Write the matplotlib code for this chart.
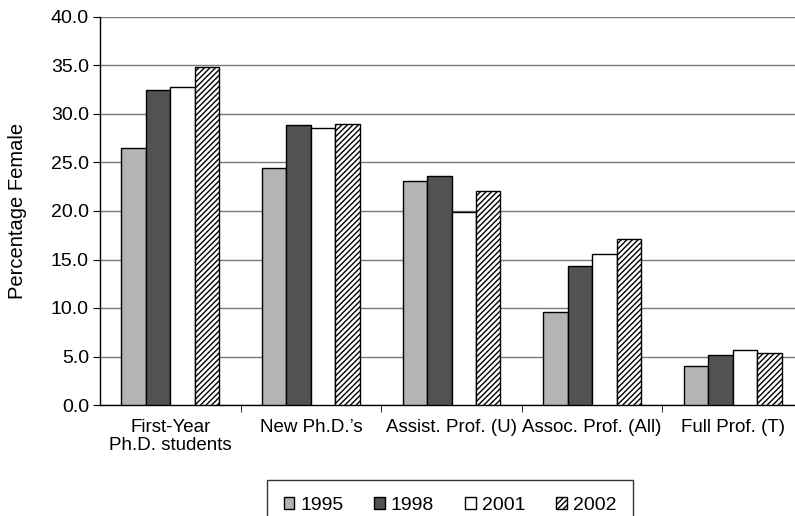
import matplotlib.pyplot as plt
import numpy as np

plt.rcParams['font.family'] = ['Liberation Sans', 'DejaVu Sans']

categories = ['First-Year\nPh.D. students', 'New Ph.D.\u2019s', 'Assist. Prof. (U)',
              'Assoc. Prof. (All)', 'Full Prof. (T)']
years = ['1995', '1998', '2001', '2002']
v1995 = [26.5, 24.4, 23.1, 9.6, 4.0]
v1998 = [32.5, 28.9, 23.6, 14.3, 5.2]
v2001 = [32.8, 28.6, 19.9, 15.6, 5.7]
v2002 = [34.8, 29.0, 22.1, 17.1, 5.4]
series = [v1995, v1998, v2001, v2002]

colors = ['#b4b4b4', '#525252', 'white', 'white']
hatches = [None, None, None, '//////']

fig = plt.figure(figsize=(7.95, 5.16), dpi=100)
ax = fig.add_axes([100/795, 1 - 405/516, 703/795, 388/516])

x = np.arange(len(categories))
w = 0.174
for i, vals in enumerate(series):
    ax.bar(x + (i - 1.5) * w, vals, w, color=colors[i], edgecolor='black',
           linewidth=1, hatch=hatches[i], label=years[i], zorder=3)

ax.set_ylim(0, 40)
ax.set_xlim(-0.5, len(categories) - 0.5)
ax.set_yticks(np.arange(0, 40.1, 5))
ax.set_yticklabels(['%.1f' % t for t in np.arange(0, 40.1, 5)], fontsize=14)
ax.yaxis.grid(True, color='#7a7a7a', linewidth=1, zorder=0)
ax.set_axisbelow(True)

ax.set_xticks(x)
ax.set_xticklabels(categories, fontsize=13.5, linespacing=1.05)
ax.tick_params(axis='x', length=0, pad=10)
ax.set_xticks(np.arange(0.5, len(categories) - 0.5), minor=True)
ax.tick_params(axis='x', which='minor', length=5, direction='out')
ax.tick_params(axis='y', length=5, direction='out', pad=3)

for s in ['top', 'right']:
    ax.spines[s].set_visible(False)
ax.spines['left'].set_linewidth(1)
ax.spines['bottom'].set_linewidth(1)

ax.set_ylabel('Percentage Female', fontsize=14.5, labelpad=17)

leg = fig.legend(loc='upper center', bbox_to_anchor=(450/795, 1 - 480/516), ncol=4,
                 fontsize=14, frameon=True, fancybox=False, edgecolor='black',
                 handlelength=0.55, handleheight=0.55, columnspacing=1.6,
                 handletextpad=0.3, borderpad=0.85, borderaxespad=0)
leg.get_frame().set_linewidth(1)

plt.savefig('out.png', dpi=100)
